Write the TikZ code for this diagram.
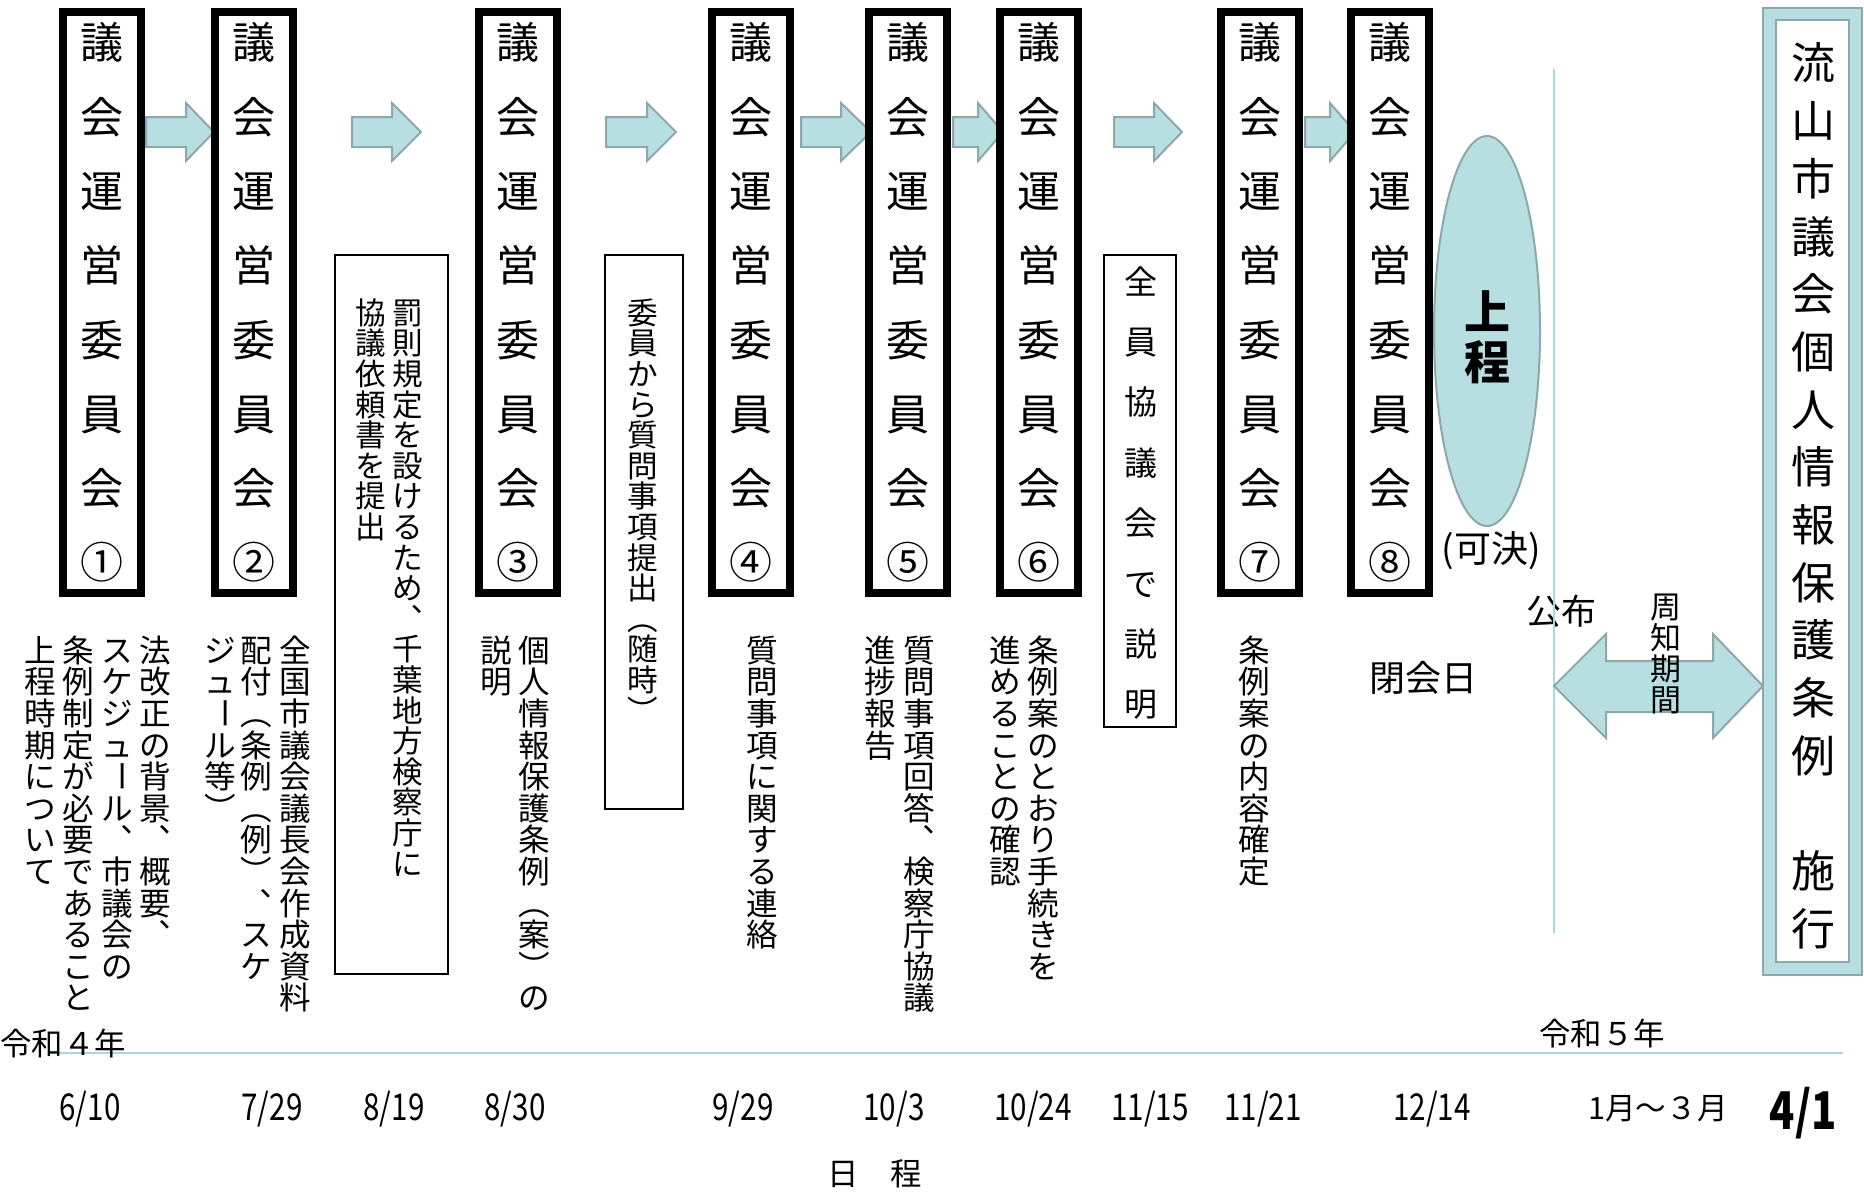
\documentclass[tikz,border=0pt]{standalone}
\usepackage{fontspec}
\setmainfont{Noto Sans CJK JP}
\newfontfamily\datefont[FakeStretch=0.8]{Noto Sans CJK JP}
\usepackage{graphicx}
\usepackage{tikz}
\usetikzlibrary{shapes.geometric}
\definecolor{mizuiro}{RGB}{183,222,225}
\definecolor{fuchi}{RGB}{140,168,171}
\definecolor{senro}{RGB}{172,216,221}

\newcommand\tate[2]{\vbox{\baselineskip=#1\lineskiplimit=-\maxdimen\lineskip=0pt\tateloop#2\relax}}
\newcommand\tateloop[1]{\ifx#1\relax\else\hbox to 1em{\vrule height .88em depth .12em width 0pt\hss\smash{#1}\hss}\expandafter\tateloop\fi}
\newcommand\bou{\raisebox{.88em}{\rotatebox{-90}{ー}}}
\newcommand\kuhaku{}
\newcommand\yajirushi[3]{\draw[hako arrow] (#1,117) -- (#3,117) -- (#3,103) -- (#2,132) -- (#3,161) -- (#3,147) -- (#1,147) -- cycle;}

\begin{document}
\begin{tikzpicture}[x=0.5pt, y=-0.5pt]
		\tikzstyle{iinkai}=[draw, line width=4pt, fill=white, minimum width=39pt, minimum height=290.5pt, inner sep=0pt, font=\fontsize{21.5}{21.5}\selectfont];
		\tikzstyle{waku}=[draw, line width=0.7pt, inner sep=0pt];
		\tikzstyle{tatesho}=[anchor=north, inner sep=0pt, font=\fontsize{15.8}{15.8}\selectfont];
		\tikzstyle{tatebox}=[tatesho, font=\fontsize{15.3}{15.3}\selectfont];
		\tikzstyle{hako arrow}=[fill=mizuiro, draw=fuchi, line width=1pt];
		\tikzstyle{hizuke}=[inner sep=0pt, font=\datefont\fontsize{18.5}{18.5}\selectfont];
		\tikzstyle{yoko}=[inner sep=0pt, font=\fontsize{15.7}{15.7}\selectfont];

		\useasboundingbox (0,0) rectangle (1864,1196);

		\yajirushi{146}{214}{186}
		\yajirushi{352}{421}{392}
		\yajirushi{606}{676}{647}
		\yajirushi{801}{871}{841}
		\yajirushi{953}{1003}{978}
		\yajirushi{1114}{1182}{1154}
		\yajirushi{1305}{1355}{1330}

		\node[iinkai] (c1) at (102,302.5) {\tate{37.15pt}{議会運営委員会①}};
		\node[iinkai] (c2) at (253.5,302.5) {\tate{37.15pt}{議会運営委員会②}};
		\node[iinkai] (c3) at (518,302.5) {\tate{37.15pt}{議会運営委員会③}};
		\node[iinkai] (c4) at (751,302.5) {\tate{37.15pt}{議会運営委員会④}};
		\node[iinkai] (c5) at (908,302.5) {\tate{37.15pt}{議会運営委員会⑤}};
		\node[iinkai] (c6) at (1038.5,302.5) {\tate{37.15pt}{議会運営委員会⑥}};
		\node[iinkai] (c7) at (1259.5,302.5) {\tate{37.15pt}{議会運営委員会⑦}};
		\node[iinkai] (c8) at (1389.5,302.5) {\tate{37.15pt}{議会運営委員会⑧}};

		\node[waku, minimum width=56.5pt, minimum height=359.5pt] (bassoku) at (391.5,614.5) {};
		\node[tatebox] (bassoku1) at (408,297) {\tate{1em}{罰則規定を設けるため︑千葉地方検察庁に}};
		\node[tatebox] (bassoku2) at (371,297) {\tate{1em}{協議依頼書を提出}};

		\node[waku, minimum width=39pt, minimum height=277pt] (shitsumon) at (644,532) {};
		\node[tatebox] (shitsumon1) at (643,297) {\tate{1em}{委員から質問事項提出︵随時︶}};

		\node[waku, minimum width=36pt, minimum height=236pt] (zenin) at (1140,491) {};
		\node[inner sep=0pt, font=\fontsize{16.5}{16.5}\selectfont] (zenin1) at (1141,493) {\tate{30.2pt}{全員協議会で説明}};

		\node[tatesho] (s1a) at (155,634) {\tate{1em}{法改正の背景︑概要︑}};
		\node[tatesho] (s1b) at (117,634) {\tate{1em}{スケジュ\bou ル︑市議会の}};
		\node[tatesho] (s1c) at (78,634) {\tate{1em}{条例制定が必要であること}};
		\node[tatesho] (s1d) at (40,634) {\tate{1em}{上程時期について}};
		\node[tatesho] (s2a) at (295,634) {\tate{1em}{全国市議会議長会作成資料}};
		\node[tatesho] (s2b) at (256,634) {\tate{1em}{配付︵条例︵例︶︑スケ}};
		\node[tatesho] (s2c) at (220,634) {\tate{1em}{ジュ\bou ル等︶}};
		\node[tatesho] (s3a) at (534,634) {\tate{1em}{個人情報保護条例︵案︶の}};
		\node[tatesho] (s3b) at (496,634) {\tate{1em}{説明}};
		\node[tatesho] (s4a) at (762,634) {\tate{1em}{質問事項に関する連絡}};
		\node[tatesho] (s5a) at (919,634) {\tate{1em}{質問事項回答︑検察庁協議}};
		\node[tatesho] (s5b) at (880,634) {\tate{1em}{進捗報告}};
		\node[tatesho] (s6a) at (1043,634) {\tate{1em}{条例案のとおり手続きを}};
		\node[tatesho] (s6b) at (1005,634) {\tate{1em}{進めることの確認}};
		\node[tatesho] (s7a) at (1254,634) {\tate{1em}{条例案の内容確定}};

		\node[ellipse, fill=mizuiro, draw=fuchi, line width=1pt, minimum width=53pt, minimum height=195pt, inner sep=0pt] (jotei) at (1487,331) {};
		\node[inner sep=0pt, font=\bfseries\fontsize{23}{23}\selectfont] (jotei1) at (1487,337) {\tate{25pt}{上程}};
		\node[yoko, font=\fontsize{18.5}{18.5}\selectfont] (kaketsu) at (1491,551) {(可決)};
		\node[yoko, font=\fontsize{18}{18}\selectfont] (heikai) at (1423,678) {閉会日};
		\node[yoko, font=\fontsize{17.5}{17.5}\selectfont] (kofu) at (1561,611) {公布};

		\coordinate (sen top) at (1554,69);
		\coordinate (sen bottom) at (1554,933);
		\draw[senro, line width=0.6pt] (sen top) -- (sen bottom);

		\draw[hako arrow] (1554,686) -- (1606,634) -- (1606,661) -- (1713,661) -- (1713,634) -- (1763,686)
			-- (1713,738) -- (1713,712) -- (1606,712) -- (1606,738) -- cycle;
		\node[tatesho, font=\fontsize{15.5}{15.5}\selectfont] (shuchi) at (1666,591) {\tate{1em}{周知期間}};

		\node[draw=fuchi, fill=mizuiro, line width=1pt, minimum width=49.5pt, minimum height=483.5pt, inner sep=0pt] (shiko) at (1812.5,491.5) {};
		\node[draw=fuchi, fill=white, line width=1pt, minimum width=36.5pt, minimum height=471pt, inner sep=0pt] (jorei) at (1812.5,491) {};
		\node[inner sep=0pt, font=\fontsize{22}{22}\selectfont] (jorei1) at (1813,496)
			{\tate{28.85pt}{流山市議会個人情報保護条例\kuhaku 施行}};

		\coordinate (jiku left) at (50,1053);
		\coordinate (jiku right) at (1843,1053);
		\draw[senro, line width=0.8pt] (jiku left) -- (jiku right);
		\node[yoko] (r4) at (63,1043) {令和４年};
		\node[yoko] (r5) at (1602,1033) {令和５年};

		\node[hizuke] (d1) at (90,1109) {6/10};
		\node[hizuke] (d2) at (272,1109) {7/29};
		\node[hizuke] (d3) at (394,1109) {8/19};
		\node[hizuke] (d4) at (515,1109) {8/30};
		\node[hizuke] (d5) at (743,1109) {9/29};
		\node[hizuke] (d6) at (894,1109) {10/3};
		\node[hizuke] (d7) at (1033,1109) {10/24};
		\node[hizuke] (d8) at (1150,1109) {11/15};
		\node[hizuke] (d9) at (1263,1109) {11/21};
		\node[hizuke] (d10) at (1432,1109) {12/14};
		\node[yoko, font=\fontsize{15.3}{15.3}\selectfont] (d11) at (1658,1109) {1月～３月};
		\node[hizuke, font=\datefont\bfseries\fontsize{26}{26}\selectfont] (d12) at (1803,1113) {4/1};

		\node[yoko] (nittei) at (875,1174) {日　程};
	\end{tikzpicture}
\end{document}
